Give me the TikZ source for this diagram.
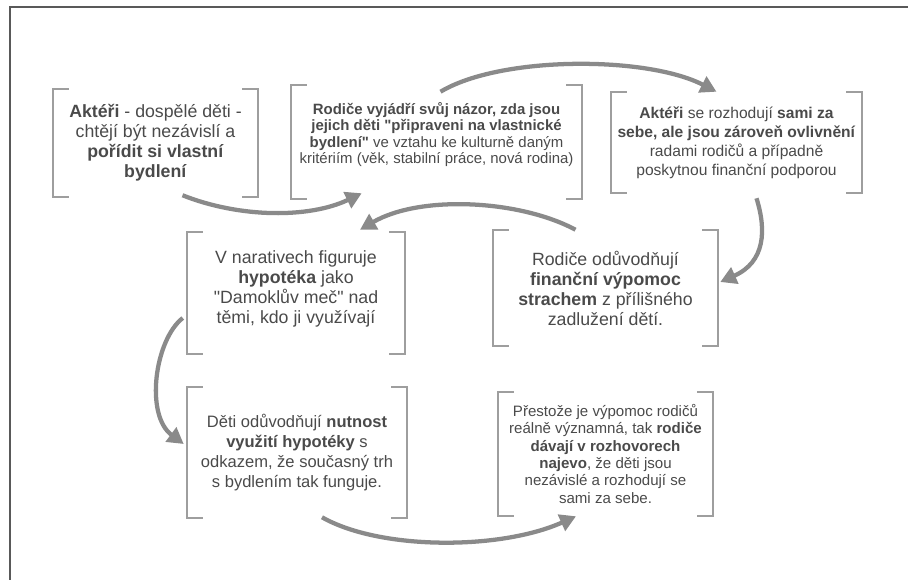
\documentclass[tikz,border=0pt]{standalone}
\usepackage{fontspec}
\setmainfont{Liberation Sans}
\usetikzlibrary{arrows.meta,calc}
\definecolor{txt}{HTML}{4A4A4A}
\definecolor{brk}{HTML}{9E9E9E}
\definecolor{arr}{HTML}{8A8A8A}
\tikzset{
  box/.style={inner sep=0pt, align=center, text=txt},
  large/.style={font=\fontsize{13.3}{15}\selectfont},
  medium/.style={font=\fontsize{12.4}{15}\selectfont},
  small/.style={font=\fontsize{11.7}{14.2}\selectfont},
  tiny/.style={font=\fontsize{11.2}{12.3}\selectfont},
  bracket/.style={draw=brk, line width=1.5pt},
  flow/.style={draw=arr, line width=3.2pt, -{Triangle[length=12pt,width=13pt]}}
}
\begin{document}
\begin{tikzpicture}[x=0.75pt, y=-0.75pt]
    \useasboundingbox (0,0) rectangle (908,580);
    \draw[color=black!65, line width=1.5pt] (908,7) -- (9.5,7) -- (9.5,580);

    \node[box, large, minimum width=153.75pt, minimum height=81pt] (akteri) at (155.5,143)
      {\textbf{Aktéři} - dospělé děti -\\ chtějí být nezávislí a\\ \textbf{pořídit si vlastní}\\ \textbf{bydlení}};
    \node[box, tiny, minimum width=218.25pt, minimum height=85.5pt] (nazor) at (436.5,142)
      {\textbf{Rodiče vyjádří svůj názor, zda jsou}\\ \textbf{jejich děti \textquotedbl připraveni na vlastnické}\\ \textbf{bydlení\textquotedbl} ve vztahu ke kulturně daným\\ kritériím (věk, stabilní práce, nová rodina)\\[1pt]\mbox{}};
    \node[box, small, minimum width=188.25pt, minimum height=75.75pt] (rozhodovani) at (736.5,142.5)
      {\textbf{Aktéři} se rozhodují \textbf{sami za}\\ \textbf{sebe, ale jsou zároveň ovlivnění}\\ radami rodičů a případně\\ poskytnou finanční podporou};
    \node[box, large, minimum width=163.5pt, minimum height=91.5pt] (hypoteka) at (296,293)
      {V narativech figuruje\\ \textbf{hypotéka} jako\\ \textquotedbl Damoklův meč\textquotedbl{} nad\\ těmi, kdo ji využívají\\[-5.5pt]\mbox{}};
    \node[box, large, minimum width=168.75pt, minimum height=87pt] (vypomoc) at (605.5,288)
      {Rodiče odůvodňují\\ \textbf{finanční výpomoc}\\ \textbf{strachem} z přílišného\\ zadlužení dětí.};
    \node[box, medium, minimum width=165pt, minimum height=98.25pt] (trh) at (297,452.5)
      {Děti odůvodňují \textbf{nutnost}\\ \textbf{využití hypotéky} s\\ odkazem, že současný trh\\ s bydlením tak funguje.};
    \node[box, font=\fontsize{11.3}{13}\selectfont, minimum width=161.25pt, minimum height=93pt] (najevo) at (605.5,454)
      {Přestože je výpomoc rodičů\\ reálně významná, tak \textbf{rodiče}\\ \textbf{dávají v rozhovorech}\\ \textbf{najevo}, že děti jsou\\ nezávislé a rozhodují se\\ sami za sebe.};

    \foreach \b in {akteri,nazor,rozhodovani,hypoteka,vypomoc,trh,najevo} {
      \draw[bracket] ([xshift=12pt]\b.north west) -| (\b.south west) -- ++(12pt,0);
      \draw[bracket] ([xshift=-12pt]\b.north east) -| (\b.south east) -- ++(-12pt,0);
    }

    \draw[flow] ($(akteri.south)+(27,-2)$) .. controls +(58,23) and +(-52,25) .. ($(nazor.south west)+(71,-6)$);
    \draw[flow] ($(nazor.north)+(4,7)$) .. controls +(60,-36) and +(-70,-36) .. ($(rozhodovani.north)+(-20,0)$);
    \draw[flow] ($(rozhodovani.south)+(20,5)$) .. controls +(10,32) and +(45,-20) .. ($(vypomoc.east)+(2,-6)$);
    \draw[flow] ($(vypomoc.north)+(-30,0)$) .. controls +(-56,-30) and +(60,-35) .. ($(hypoteka.north)+(64,-2)$);
    \draw[flow] ($(hypoteka.west)+(-4,25)$) .. controls +(-28,22) and +(-39,-29) .. ($(trh.west)+(-3,-8.5)$);
    \draw[flow] ($(trh.south)+(25,-1)$) .. controls +(58,33) and +(-76,34) .. ($(najevo.south)+(-29.5,0)$);
  \end{tikzpicture}
\end{document}
